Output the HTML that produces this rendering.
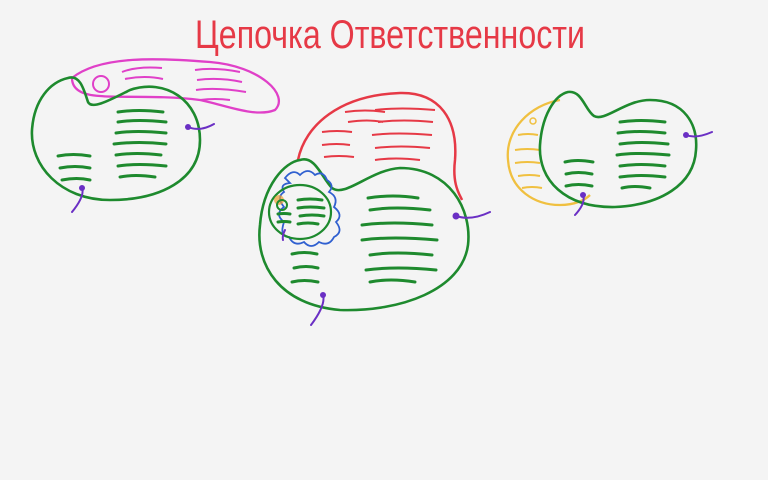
<!DOCTYPE html>
<html><head><meta charset="utf-8"><style>
html,body{margin:0;padding:0;background:#f4f4f4;}
svg{display:block;}
.g{fill:none;stroke:#1e8a2e;stroke-width:2.6;stroke-linecap:round;stroke-linejoin:round}
.gl{fill:none;stroke:#1e8a2e;stroke-width:3;stroke-linecap:round}
.p{fill:none;stroke:#6a2fc4;stroke-width:2;stroke-linecap:round}
</style></head><body>
<svg width="768" height="480" viewBox="0 0 768 480">
<rect width="768" height="480" fill="#f4f4f4"/>
<text x="390" y="48" text-anchor="middle" font-family="'Liberation Sans Narrow','Liberation Sans',sans-serif" font-size="40" fill="#e63946" textLength="390" lengthAdjust="spacingAndGlyphs">Цепочка Ответственности</text>

<!-- Left group -->
<g>
<path d="M72,78 C100,55 160,58 210,62 C260,66 290,95 275,110 C255,118 225,105 200,100 C160,95 120,98 100,96 C80,95 72,88 72,78 Z" fill="none" stroke="#e040c8" stroke-width="2.3"/>
<circle cx="101" cy="84" r="8" fill="none" stroke="#e040c8" stroke-width="2"/>
<path d="M122,72 q15,-6 40,-4 M125,79 q20,-4 38,0 M195,70 q20,-3 45,2 M197,80 q22,-3 45,2 M196,90 q20,-3 50,2 M200,100 q15,-2 30,0" fill="none" stroke="#e040c8" stroke-width="2"/>
<path class="g" d="M68,78 C80,74 84,90 88,102 C92,110 110,100 130,90 C165,78 200,100 200,140 C200,180 160,200 110,200 C60,200 30,165 32,130 C34,100 50,82 68,78 Z"/>
<path class="gl" d="M118,112 q20,-3 45,0 M118,122 q20,-3 48,0 M116,133 q20,-3 50,0 M114,144 q25,-3 52,0 M116,155 q20,-3 45,0 M118,166 q20,-3 48,0 M120,177 q15,-3 35,0 M58,156 q15,-3 32,0 M60,168 q15,-3 30,0 M62,180 q15,-3 28,0"/>
<path class="p" d="M188,127 q12,5 26,-3 M82,188 q3,8 -10,24"/>
<circle cx="188" cy="127" r="3" fill="#6a2fc4"/><circle cx="82" cy="188" r="3" fill="#6a2fc4"/>
</g>

<!-- Middle group -->
<g>
<path d="M298,160 C305,125 340,95 400,93 C440,92 458,120 455,160 C452,185 460,195 462,200" fill="none" stroke="#e63946" stroke-width="2.5"/>
<path d="M345,112 q20,-3 40,0 M348,122 q20,-3 35,0 M375,110 q25,-3 60,0 M378,122 q25,-3 55,0 M372,135 q25,-3 60,0 M375,148 q25,-3 55,0 M375,160 q20,-3 45,0 M322,132 q15,-2 30,0 M322,145 q15,-2 28,0 M324,157 q15,-2 30,0" fill="none" stroke="#e63946" stroke-width="2"/>
<path class="g" d="M300,160 C315,155 322,178 332,188 C345,198 370,170 400,168 C450,168 472,210 468,245 C462,290 400,312 340,310 C280,305 255,265 260,225 C263,185 285,162 300,160 Z"/>
<path d="M285,178 q8,-10 15,-3 q8,-8 15,0 q8,-5 12,5 q8,5 2,12 q10,5 5,15 q10,8 2,15 q8,10 -2,15 q-5,10 -15,5 q-8,8 -15,0 q-10,5 -15,-5 q-10,0 -5,-15 q-10,-8 0,-15 q-8,-10 0,-15 q-5,-8 6,-9 Z" fill="none" stroke="#3060d0" stroke-width="1.8"/>
<ellipse cx="300" cy="212" rx="31" ry="27" fill="none" stroke="#1e8a2e" stroke-width="2.2"/>
<circle cx="279" cy="200" r="5" fill="#f0a030" opacity="0.7"/><circle cx="282" cy="205" r="5" fill="none" stroke="#1e8a2e" stroke-width="2"/>
<path class="gl" d="M298,200 q12,-2 24,0 M298,208 q12,-2 26,0 M300,216 q12,-2 24,0 M298,224 q10,-2 20,0 M278,214 q6,-1 12,0 M278,222 q6,-1 12,0"/>
<path class="gl" d="M368,198 q25,-4 50,0 M370,210 q25,-4 60,0 M362,225 q30,-4 70,0 M362,240 q30,-4 75,0 M370,255 q25,-4 62,0 M366,270 q30,-4 70,0 M370,282 q20,-4 45,0 M292,254 q12,-3 25,0 M294,268 q12,-3 24,0 M292,282 q12,-3 26,0"/>
<path class="p" d="M456,216 q15,5 34,-4 M323,295 q3,10 -12,30 M285,230 q-3,6 -2,10"/>
<circle cx="456" cy="216" r="3.5" fill="#6a2fc4"/><circle cx="323" cy="295" r="3" fill="#6a2fc4"/>
</g>

<!-- Right group -->
<g>
<path d="M560,100 C530,105 505,130 508,160 C510,190 535,205 560,205 C575,205 585,200 590,195" fill="none" stroke="#f0c040" stroke-width="2.3"/>
<path d="M518,135 q10,-2 20,0 M515,150 q12,-2 25,0 M515,163 q12,-2 25,0 M518,176 q12,-2 22,0 M522,188 q10,-2 20,0" fill="none" stroke="#f0c040" stroke-width="2"/>
<circle cx="533" cy="121" r="3" fill="none" stroke="#f0c040" stroke-width="1.5"/>
<path class="g" d="M568,92 C582,90 585,110 594,116 C605,122 625,100 650,100 C685,100 698,125 696,150 C694,185 660,205 615,207 C565,208 538,180 540,145 C542,115 555,95 568,92 Z"/>
<path class="gl" d="M620,122 q20,-3 45,0 M618,133 q20,-3 47,0 M620,144 q20,-3 48,0 M617,155 q20,-3 52,0 M620,166 q20,-3 45,0 M620,177 q20,-3 45,0 M622,188 q12,-3 28,0 M565,162 q12,-3 28,0 M566,174 q12,-3 26,0 M566,186 q12,-3 26,0"/>
<path class="p" d="M686,135 q10,4 26,-3 M583,195 q3,8 -8,20"/>
<circle cx="686" cy="135" r="3" fill="#6a2fc4"/><circle cx="583" cy="195" r="3" fill="#6a2fc4"/>
</g>
</svg>
</body></html>
